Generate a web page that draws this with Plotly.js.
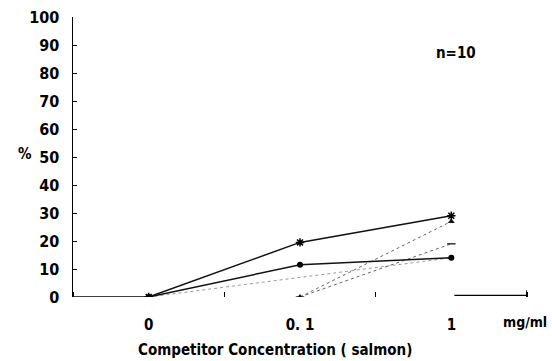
<!DOCTYPE html>
<html>
<head>
<meta charset="utf-8">
<script src="https://cdn.plot.ly/plotly-3.0.1.min.js"></script>
<style>html,body{margin:0;padding:0;background:#fff;}#chart{width:552px;height:361px;}</style>
</head>
<body>
<div id="chart"></div>
<script>
var xPos = [0, 1, 2];
var xLabels = ["0", "0. 1", "1"];
var yTicks = [0, 10, 20, 30, 40, 50, 60, 70, 80, 90, 100];
var starSeries = [0, 19.5, 29];
var circleSeries = [0, 11.5, 14];
var triangleSeries = [null, 0, 27];
var dashSeriesA = [null, 0, 19];
var dashSeriesB = [0, 7, 14];

var F = "'DejaVu Sans Condensed', 'Liberation Sans Narrow', 'Liberation Sans', sans-serif";

var traces = [
  {x: xPos, y: dashSeriesB, mode: 'lines', line: {color: '#9a9a9a', width: 1, dash: 'dot'}, hoverinfo: 'skip'},
  {x: xPos, y: dashSeriesA, mode: 'lines+markers', line: {color: '#666', width: 1, dash: 'dot'},
   marker: {symbol: 'line-ew-open', size: 6, color: '#333', line: {width: 1.5, color: '#333'}}},
  {x: xPos, y: triangleSeries, mode: 'lines+markers', line: {color: '#666', width: 1, dash: 'dot'},
   marker: {symbol: 'triangle-up', size: 6, color: '#111'}},
  {x: xPos, y: circleSeries, mode: 'lines+markers', line: {color: '#111', width: 1.5},
   marker: {symbol: 'circle', size: 6, color: '#000'}},
  {x: xPos, y: starSeries, mode: 'lines+markers', line: {color: '#111', width: 1.5},
   marker: {symbol: 'asterisk-open', size: 7, color: '#000', line: {width: 1.5, color: '#000'}}}
];

var layout = {
  width: 552, height: 361,
  margin: {l: 73, r: 25, t: 17, b: 64},
  paper_bgcolor: '#fff', plot_bgcolor: '#fff',
  showlegend: false,
  font: {family: F, color: '#000'},
  xaxis: {
    range: [-0.5, 2.5], showgrid: false, zeroline: false, showline: false,
    tickmode: 'array', tickvals: xPos, ticktext: xLabels, ticks: '',
    tickfont: {size: 15, family: F, weight: 'bold'},
    ticklabelstandoff: 17,
    minor: {tick0: 0.5, dtick: 1, ticks: 'inside', ticklen: 5, tickcolor: '#000', tickwidth: 1.5, showgrid: false}
  },
  yaxis: {
    range: [0, 100], showgrid: false, zeroline: false, showline: true, linecolor: '#000', linewidth: 1.5,
    tickmode: 'array', tickvals: yTicks, ticks: 'inside', ticklen: 4, tickcolor: '#000',
    tickfont: {size: 16, family: F, weight: 'bold'}, ticklabelstandoff: 9
  },
  shapes: [
    {type: 'line', xref: 'x', yref: 'y', x0: -0.5, x1: 0, y0: 0, y1: 0, line: {color: '#000', width: 1.5}},
    {type: 'line', xref: 'x', yref: 'y', x0: 2.02, x1: 2.5, y0: 0.6, y1: 0.6, line: {color: '#000', width: 1.2}},
    {type: 'line', xref: 'x', yref: 'y', x0: 2.5, x1: 2.5, y0: 0.6, y1: 2.5, line: {color: '#000', width: 1.5}}
  ],
  annotations: [
    {text: 'Competitor Concentration ( salmon)', xref: 'paper', yref: 'paper', x: 0.445, y: -0.19, yanchor: 'middle', showarrow: false, font: {size: 15, family: F, weight: 'bold'}},
    {text: '%', xref: 'paper', yref: 'paper', x: -0.125, y: 0.51, showarrow: false, font: {size: 15, family: F, weight: 'bold'}},
    {text: 'n=10', xref: 'x', yref: 'y', x: 2.03, y: 87, showarrow: false, font: {size: 15, family: F, weight: 'bold'}},
    {text: 'mg/ml', xref: 'x', yref: 'paper', x: 2.49, y: -0.09, yanchor: 'middle', showarrow: false, font: {size: 14, family: F, weight: 'bold'}}
  ]
};

Plotly.newPlot('chart', traces, layout, {displayModeBar: false, staticPlot: true});
</script>
</body>
</html>
